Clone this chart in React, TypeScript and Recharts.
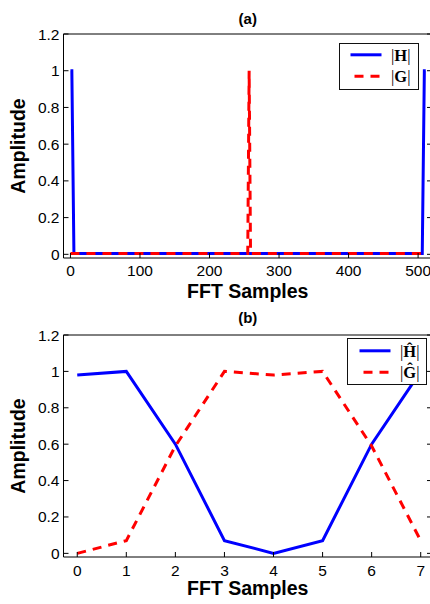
import React from 'react';
import { LineChart, Line, XAxis, YAxis, Legend } from 'recharts';

// Panel (a): 512-point FFT magnitudes, given by their breakpoints
const hX = [0, 2, 5, 506, 509, 511];
const hY = [1, 1, 0.005, 0.005, 1, 1];
const gX = [0, 255, 257, 259, 511];
const gY = [0.005, 0.005, 1, 0.005, 0.005];
const topTicks = [0, 100, 200, 300, 400, 500];

// Panel (b): 8-point FFT magnitudes
const binX = [0, 1, 2, 3, 4, 5, 6, 7];
const hHat = [0.98, 1, 0.6, 0.07, 0, 0.07, 0.6, 1];
const gHat = [0, 0.07, 0.59, 1, 0.98, 1, 0.59, 0.07];
const bottomTicks = [0, 1, 2, 3, 4, 5, 6, 7];

const yTicks = [0, 0.2, 0.4, 0.6, 0.8, 1, 1.2];

const BLUE = '#0000ff';
const RED = '#ff0000';
const SANS = '"Liberation Sans", Arial, sans-serif';
const SERIF = '"Liberation Serif", "Times New Roman", serif';

const labelStyle: React.CSSProperties = {
  fontFamily: SANS,
  fontWeight: 'bold',
  fontSize: 19.5,
  fill: '#000',
};
const tickStyle = { fill: '#000', fontSize: 15.5, fontFamily: SANS };
const axisStroke = { stroke: '#000', strokeWidth: 1 };

const toData = (xs: number[], ys: number[]) => xs.map((x, i) => ({ x, v: ys[i] }));

const fmtY = (v: number) => String(Math.round(v * 10) / 10);

function LegendBox({ labels }: { labels: [string, string] }) {
  return (
    <div
      style={{
        width: 80,
        height: 47,
        boxSizing: 'border-box',
        border: '1.5px solid #111',
        background: '#fff',
        position: 'relative',
      }}
    >
      <svg width={80} height={47} style={{ position: 'absolute', left: -1.5, top: -1.5 }}>
        <line x1={12.5} x2={43.5} y1={12.8} y2={12.8} stroke={BLUE} strokeWidth={3} />
        <line x1={16.5} x2={42.5} y1={34.3} y2={34.3} stroke={RED} strokeWidth={3} strokeDasharray="9 7" />
        {labels.map((l, i) => (
          <text
            key={i}
            x={53}
            y={i === 0 ? 18.5 : 40}
            fontFamily={SERIF}
            fontSize={16.5}
            fill="#000"
          >
            <tspan>|</tspan>
            <tspan fontWeight="bold">{l}</tspan>
            <tspan>|</tspan>
          </text>
        ))}
      </svg>
    </div>
  );
}

type PanelProps = {
  top: number;
  height: number;
  plotTop: number;
  title: string;
  titleOffset: number;
  xLabelOffset: number;
  domainX: [number, number];
  ticksX: number[];
  h: { x: number; v: number }[];
  g: { x: number; v: number }[];
  labels: [string, string];
  legendLeft: number;
  legendTop: number;
  tickMarginX: number;
};

function Panel(p: PanelProps) {
  return (
    <div style={{ position: 'absolute', left: 0, top: p.top }}>
      <LineChart width={440} height={p.height} margin={{ top: p.plotTop - 1, right: 7, left: 0, bottom: 0 }}>
        <XAxis
          xAxisId="b"
          dataKey="x"
          type="number"
          domain={p.domainX}
          ticks={p.ticksX}
          interval={0}
          allowDataOverflow
          height={47}
          tickSize={-5}
          tickMargin={p.tickMarginX}
          axisLine={axisStroke}
          tickLine={axisStroke}
          tick={tickStyle}
          label={{ value: 'FFT Samples', position: 'insideBottom', offset: p.xLabelOffset, style: labelStyle }}
        />
        <XAxis
          xAxisId="t"
          orientation="top"
          type="number"
          domain={p.domainX}
          ticks={p.ticksX}
          interval={0}
          allowDataOverflow
          height={1}
          tickSize={-5}
          axisLine={axisStroke}
          tickLine={axisStroke}
          tickFormatter={() => ''}
          label={{
            value: p.title,
            position: 'top',
            offset: p.titleOffset - 1,
            style: { ...labelStyle, fontSize: 15 },
          }}
        />
        <YAxis
          yAxisId="l"
          type="number"
          domain={[-0.02, 1.2]}
          ticks={yTicks}
          interval={0}
          allowDataOverflow
          width={63.5}
          tickSize={-5}
          tickMargin={9}
          axisLine={axisStroke}
          tickLine={axisStroke}
          tick={tickStyle}
          tickFormatter={fmtY}
          label={{
            value: 'Amplitude',
            angle: -90,
            position: 'insideLeft',
            offset: 18,
            style: { ...labelStyle, textAnchor: 'middle' },
          }}
        />
        <YAxis
          yAxisId="r"
          orientation="right"
          type="number"
          domain={[-0.02, 1.2]}
          ticks={yTicks}
          interval={0}
          allowDataOverflow
          width={1}
          tickSize={-5}
          axisLine={axisStroke}
          tickLine={axisStroke}
          tickFormatter={() => ''}
        />
        <Legend
          layout="vertical"
          align="center"
          verticalAlign="middle"
          wrapperStyle={{ left: p.legendLeft, top: p.legendTop, width: 80, height: 47 }}
          content={() => <LegendBox labels={p.labels} />}
        />
        <Line
          xAxisId="b"
          yAxisId="l"
          data={p.h}
          dataKey="v"
          name={p.labels[0]}
          stroke={BLUE}
          strokeWidth={3}
          dot={false}
          activeDot={false}
          isAnimationActive={false}
        />
        <Line
          xAxisId="b"
          yAxisId="l"
          data={p.g}
          dataKey="v"
          name={p.labels[1]}
          stroke={RED}
          strokeWidth={3}
          strokeDasharray="9 7"
          dot={false}
          activeDot={false}
          isAnimationActive={false}
        />
      </LineChart>
    </div>
  );
}

export default function App() {
  return (
    <div
      style={{
        position: 'absolute',
        left: 0,
        top: 0,
        width: 430,
        height: 604,
        overflow: 'hidden',
        background: '#fff',
      }}
    >
      <Panel
        top={0}
        height={305}
        plotTop={34}
        title="(a)"
        titleOffset={10}
        xLabelOffset={7}
        domainX={[-10, 520]}
        ticksX={topTicks}
        h={toData(hX, hY)}
        g={toData(gX, gY)}
        labels={['H', 'G']}
        legendLeft={338.5}
        legendTop={42.7}
        tickMarginX={11.5}
      />
      <Panel
        top={300}
        height={304}
        plotTop={35}
        title="(b)"
        titleOffset={12}
        xLabelOffset={9}
        domainX={[-0.28, 7.23]}
        ticksX={bottomTicks}
        h={toData(binX, hHat)}
        g={toData(binX, gHat)}
        labels={['\u0124', '\u011C']}
        legendLeft={347.3}
        legendTop={38.3}
        tickMarginX={12.5}
      />
    </div>
  );
}
